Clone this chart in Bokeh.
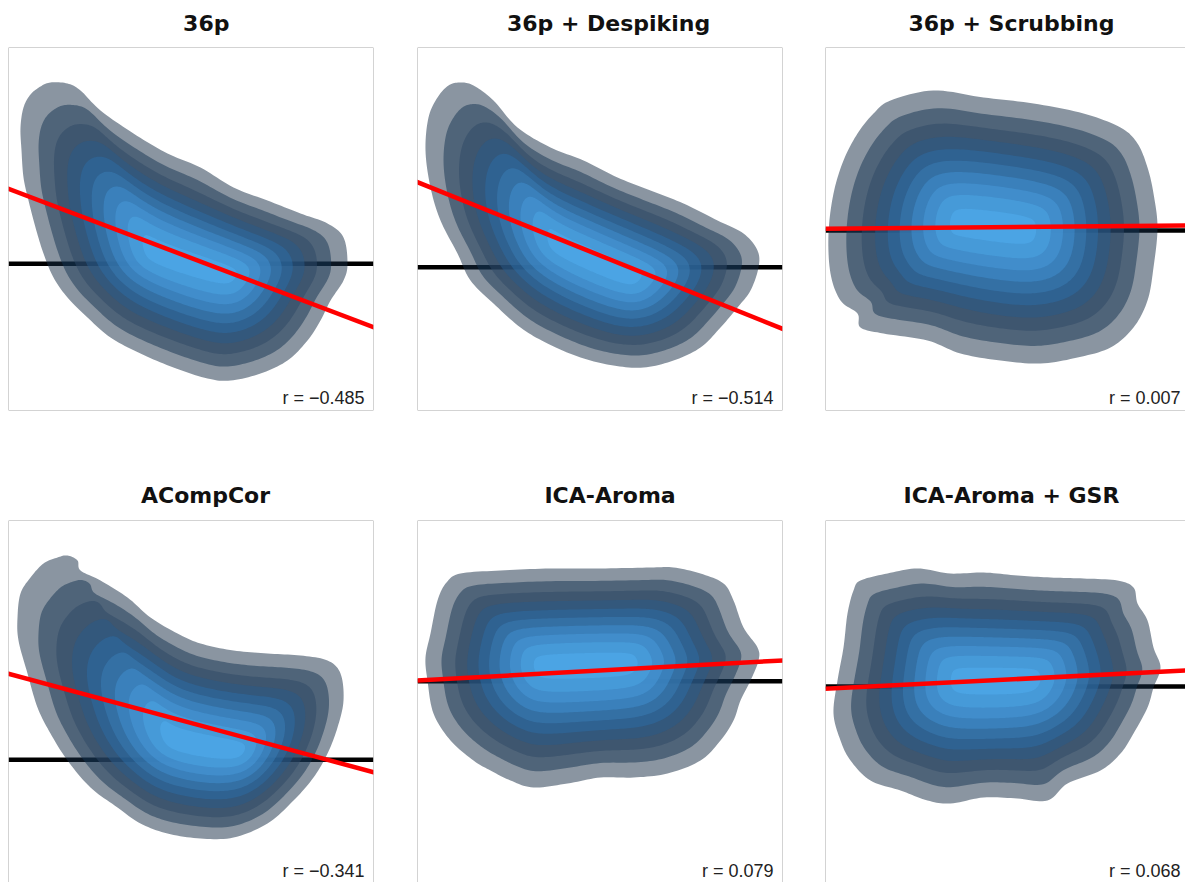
import numpy as np
from bokeh.plotting import figure
from bokeh.layouts import column, row
from bokeh.models import Range1d, Span, Slope
from bokeh.embed import file_html
from bokeh.resources import INLINE
from bokeh.core.properties import value

# ---------------- data ----------------
# panel coordinates: x 0..365 (left->right), y 0..363 (top->bottom)
TITLES = ["36p", "36p + Despiking", "36p + Scrubbing",
          "ACompCor", "ICA-Aroma", "ICA-Aroma + GSR"]
R_VALUES = [-0.485, -0.514, 0.007, -0.341, 0.079, 0.068]

# outermost shaded density contour of each panel
OUTER_36P_X = [32, 42, 59, 72, 92, 125, 159, 192, 225, 259, 292, 319, 335, 339, 335, 322, 312, 299,
               279, 252, 222, 199, 165, 132, 102, 79, 59, 45, 35, 27, 20, 15, 13, 12, 15, 22]
OUTER_36P_Y = [39, 35, 36, 43, 63, 86, 106, 120, 140, 153, 166, 176, 190, 216, 233, 253, 273, 293,
               313, 326, 333, 331, 320, 306, 290, 270, 250, 230, 206, 180, 153, 130, 103, 80, 60, 47]

OUTER_DESPIKE_X = [31, 43, 56, 76, 100, 133, 166, 200, 233, 266, 300, 326, 340, 341, 333, 320, 303,
                   283, 256, 226, 196, 163, 130, 103, 76, 53, 40, 23, 13, 8, 11, 20]
OUTER_DESPIKE_Y = [38, 35, 38, 53, 80, 100, 113, 130, 143, 156, 173, 186, 203, 220, 243, 260, 280,
                   300, 313, 320, 318, 310, 296, 280, 256, 233, 206, 173, 140, 103, 70, 50]

OUTER_SCRUB_X = [48, 65, 108, 158, 208, 258, 295, 312, 322, 328, 332, 328, 322, 308, 285, 252, 215,
                 175, 135, 102, 58, 35, 32, 15, 5, 3, 8, 18, 32]
OUTER_SCRUB_Y = [66, 53, 43, 50, 56, 66, 80, 96, 120, 146, 180, 220, 253, 280, 300, 310, 316,
                 313, 306, 293, 286, 280, 266, 253, 226, 186, 146, 113, 86]

OUTER_ACOMPCOR_X = [49, 59, 69, 72, 92, 119, 142, 169, 192, 225, 259, 292, 319, 332, 335, 329, 319,
                    305, 285, 259, 225, 192, 159, 132, 109, 82, 59, 42, 29, 19, 10, 9, 12, 22, 35]
OUTER_ACOMPCOR_Y = [37, 35, 40, 50, 60, 77, 97, 113, 123, 130, 133, 135, 140, 153, 180, 207, 233,
                    257, 280, 303, 317, 318, 313, 303, 287, 267, 240, 213, 187, 153, 120, 97, 73, 57, 43]

OUTER_AROMA_X = [43, 83, 133, 183, 233, 256, 283, 306, 316, 326, 340, 341, 333, 323, 316, 303,
                 283, 250, 216, 183, 150, 116, 93, 73, 56, 33, 16, 10, 8, 13, 20, 29]
OUTER_AROMA_Y = [53, 50, 48, 48, 47, 47, 53, 63, 80, 107, 127, 140, 160, 180, 200, 220,
                 240, 253, 257, 257, 263, 267, 260, 250, 240, 220, 193, 160, 137, 113, 80, 62]

OUTER_GSR_X = [28, 35, 62, 92, 125, 158, 192, 225, 258, 292, 308, 312, 322, 328, 335, 328, 322,
               308, 295, 275, 242, 222, 192, 158, 125, 102, 75, 45, 25, 15, 8, 12, 18, 22]
OUTER_GSR_Y = [70, 60, 53, 48, 53, 52, 55, 57, 58, 60, 67, 83, 100, 127, 147, 167, 187,
               213, 233, 250, 263, 280, 278, 277, 283, 280, 270, 260, 240, 220, 193, 160, 127, 93]

OUTER_X = [OUTER_36P_X, OUTER_DESPIKE_X, OUTER_SCRUB_X, OUTER_ACOMPCOR_X, OUTER_AROMA_X, OUTER_GSR_X]
OUTER_Y = [OUTER_36P_Y, OUTER_DESPIKE_Y, OUTER_SCRUB_Y, OUTER_ACOMPCOR_Y, OUTER_AROMA_Y, OUTER_GSR_Y]

# density ridge (where the peak lies) : two end points per panel
RIDGE_X = [[150, 215], [145, 210], [140, 195], [170, 225], [130, 205], [140, 200]]
RIDGE_Y = [[207, 226], [200, 228], [175, 182], [222, 232], [145, 143], [160, 160]]

# black reference line and red fitted line
ZERO_Y = [216.3, 219.7, 183.0, 239.3, 160.7, 166.0]
FIT_Y0 = [141.3, 134.7, 181.3, 153.3, 160.0, 168.3]
FIT_SLOPE = [0.379, 0.4016, -0.0092, 0.2696, -0.0548, -0.0508]

# relative size of the nested density levels (outer -> peak)
LEVEL_SCALE = [1.0, 0.87, 0.76, 0.665, 0.575, 0.49, 0.405, 0.32, 0.23, 0.12]

# ---------------- styling ----------------
BAND_LOOK = ["#8a95a1", "#4f6479", "#3e566f", "#33587c", "#2f6291",
             "#3470a4", "#3a80bb", "#418dcb", "#469ad8", "#4ba4e4"]
ALPHA = 0.5
SMOOTH = 0.06


def hex2rgb(h):
    return np.array([int(h[i:i + 2], 16) for i in (1, 3, 5)], dtype=float)


def layer_colors():
    out = []
    prev = np.array([255.0, 255.0, 255.0])
    for h in BAND_LOOK:
        target = hex2rgb(h)
        c = (target - (1 - ALPHA) * prev) / ALPHA
        c = np.clip(np.round(c), 0, 255).astype(int)
        out.append("#%02x%02x%02x" % tuple(c))
        prev = target
    return out


LAYER_COLORS = layer_colors()


def smooth_closed(xs, ys, n=10):
    P = np.column_stack([xs, ys]).astype(float)
    m = len(P)
    out = []
    for i in range(m):
        p0, p1, p2, p3 = P[i - 1], P[i], P[(i + 1) % m], P[(i + 2) % m]
        for t in np.linspace(0, 1, n, endpoint=False):
            t2, t3 = t * t, t * t * t
            out.append(0.5 * (2 * p1 + (-p0 + p2) * t + (2 * p0 - 5 * p1 + 4 * p2 - p3) * t2
                              + (-p0 + 3 * p1 - 3 * p2 + p3) * t3))
    return np.array(out)


def circ_blur(arr, sigma):
    if sigma < 0.5:
        return arr
    k = int(3 * sigma) + 1
    j = np.arange(-k, k + 1)
    w = np.exp(-0.5 * (j / sigma) ** 2)
    w /= w.sum()
    out = np.zeros_like(arr)
    for jj, ww in zip(j, w):
        out += ww * np.roll(arr, jj, axis=0)
    return out


FRAME_W = [365, 365, 360]
LEFT_GAP = [8, 0, 0]
RIGHT_GAP = [44, 43, 0]
FRAME_H = [363, 362]
TOP_GAP = [47, 80]
BOTTOM_GAP = [30, 0]
TITLE_VALIGN = ["top", "bottom"]
TITLE_STANDOFF = [20, 26]
TITLE_LEFT = [174.6, 89.4, 83, 132.5, 126.9, 78]
BORDER = "#a8a8a8"


def make_panel(i):
    r, c = divmod(i, 3)
    fw, fh = FRAME_W[c], FRAME_H[r]
    p = figure(frame_width=fw, frame_height=fh,
               x_range=Range1d(0, fw), y_range=Range1d(fh, 0),
               min_border_left=LEFT_GAP[c], min_border_right=RIGHT_GAP[c],
               min_border_top=TOP_GAP[r], min_border_bottom=BOTTOM_GAP[r],
               x_axis_location=None, y_axis_location=None,
               toolbar_location=None, output_backend="svg",
               background_fill_color="white", border_fill_color="white")
    p.grid.visible = False
    p.outline_line_color = None

    p.title.text = TITLES[i]
    p.title.align = "left"
    p.title.offset = TITLE_LEFT[i]
    p.title.vertical_align = TITLE_VALIGN[r]
    p.title.standoff = TITLE_STANDOFF[r]
    p.title.text_font = "DejaVu Sans"
    p.title.text_font_style = "bold"
    p.title.text_font_size = "22px"
    p.title.text_color = "#111111"

    # black reference line beneath the density layers
    p.add_layout(Span(location=ZERO_Y[i], dimension="width", line_color="black",
                      line_width=4.5, level="underlay"))

    pts = smooth_closed(OUTER_X[i], OUTER_Y[i])
    n = len(pts)
    A = np.array([RIDGE_X[i][0], RIDGE_Y[i][0]], dtype=float)
    B = np.array([RIDGE_X[i][1], RIDGE_Y[i][1]], dtype=float)
    d = B - A
    t = np.clip(((pts - A) @ d) / (d @ d), 0, 1)
    q = A + t[:, None] * d
    for s, col in zip(LEVEL_SCALE, LAYER_COLORS):
        ring = q + s * (pts - q)
        ring = circ_blur(ring, SMOOTH * (1 - s) * n)
        p.patch(ring[:, 0], ring[:, 1], fill_color=col, fill_alpha=ALPHA, line_color=None)

    p.add_layout(Slope(gradient=FIT_SLOPE[i], y_intercept=FIT_Y0[i],
                       line_color="#ff0000", line_width=4.5))

    txt = ("r = %.3f" % R_VALUES[i]).replace("-", "\u2212")
    p.text(x=[356 if c < 2 else 355], y=[350.5], text=[txt], text_align="right",
           text_baseline="alphabetic", text_font=value("Liberation Sans"),
           text_font_size="18px", text_color="#222222")

    # frame borders
    p.add_layout(Span(location=0, dimension="height", line_color=BORDER, line_width=1))
    p.add_layout(Span(location=0, dimension="width", line_color=BORDER, line_width=1))
    if c < 2:
        p.add_layout(Span(location=fw, dimension="height", line_color=BORDER, line_width=1))
    if r == 0:
        p.add_layout(Span(location=fh, dimension="width", line_color=BORDER, line_width=1))
    return p


panels = [make_panel(i) for i in range(6)]
layout = column(row(*panels[:3]), row(*panels[3:]))
open("out.html", "w").write(file_html(layout, INLINE))
